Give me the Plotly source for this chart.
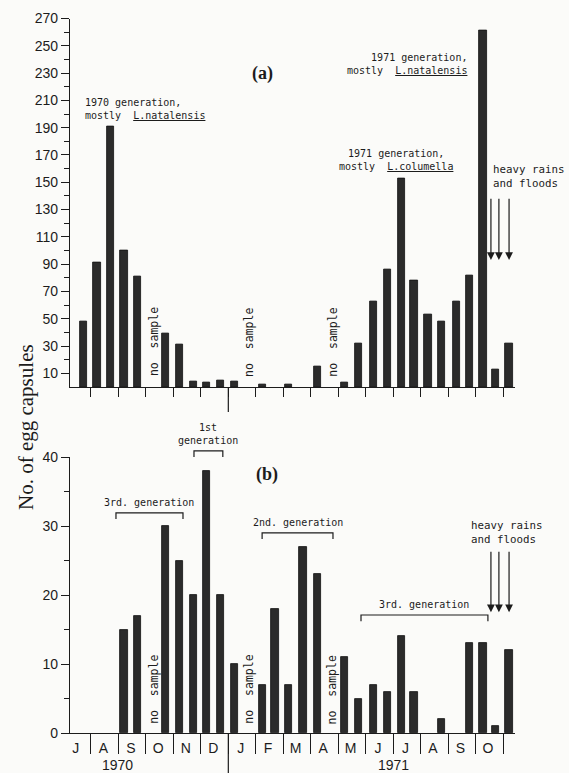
import plotly.graph_objects as go

# ---------------- data ----------------
months = ["J", "A", "S", "O", "N", "D", "J", "F", "M", "A", "M", "J", "J", "A", "S", "O", "N"]
years = ["1970", "1971"]
# sampling dates, in months since the start of July 1970
sample_dates = [0.72, 1.22, 1.72, 2.2, 2.7, 3.7, 4.22, 4.72, 5.22, 5.73, 6.22, 7.23, 7.7, 8.2,
                8.72, 9.25, 10.24, 10.75, 11.28, 11.79, 12.3, 12.76, 13.27, 13.77, 14.3, 14.78,
                15.27, 15.74, 16.22]
capsules_a = [48, 91, 191, 100, 81, 39, 31, 4, 3, 5, 4, 2, None, 1.5, None, 15, 3, 32, 63, 86,
              153, 78, 53, 48, 63, 82, 261, 13, 32]
capsules_b = [None, None, None, 15, 17, 30, 25, 20, 38, 20, 10, 7, 18, 7, 27, 23, 11, 5, 7, 6,
              14, 6, None, 2, None, 13, 13, 1, 12]
no_sample_dates = [3.3, 6.75, 9.8]
flood_dates = [15.56, 15.85, 16.22]
generations_b = ["3rd. generation", "1st<br>generation", "2nd. generation", "3rd. generation"]
generation_spans = [(1.91, 4.35), (4.75, 5.8), (7.23, 9.81), (10.83, 15.45)]
generation_levels = [31.9, 40.9, 29.0, 17.1]

W, H = 569, 773
BAR = "#2b2b2b"
INK = "#1c1c1c"
MONO = "DejaVu Sans Mono, monospace"
SANS = "Liberation Sans, Arial, sans-serif"
SERIF = "Liberation Serif, Times New Roman, serif"

fig = go.Figure()
fig.add_trace(go.Bar(x=sample_dates, y=capsules_a, xaxis="x", yaxis="y", width=0.26,
                     marker=dict(color=BAR, line=dict(color="#111111", width=0.8)),
                     showlegend=False))
fig.add_trace(go.Bar(x=sample_dates, y=capsules_b, xaxis="x2", yaxis="y2", width=0.26,
                     marker=dict(color=BAR, line=dict(color="#111111", width=0.8)),
                     showlegend=False))

xdom = [70 / W, 515 / W]
xrng = [(70 - 63.5) / 27.47, (515 - 63.5) / 27.47]
bounds = list(range(1, len(months)))
ydom_a = [(H - 387) / H, (H - 18.5) / H]
ydom_b = [(H - 733) / H, (H - 457) / H]
yrng_b = [0, 40]


def paper_b(v):
    """convert a value on panel (b)'s y scale to paper coordinates"""
    return ydom_b[0] + (v - yrng_b[0]) / (yrng_b[1] - yrng_b[0]) * (ydom_b[1] - ydom_b[0])


axis_common = dict(showgrid=False, zeroline=False, showline=True, linecolor=INK, linewidth=1.3,
                   automargin=False, tickcolor=INK, tickwidth=1.2)

fig.update_layout(
    width=W, height=H,
    margin=dict(l=0, r=0, t=0, b=0),
    paper_bgcolor="#fbfbf9", plot_bgcolor="#fbfbf9",
    bargap=0,
    xaxis=dict(domain=xdom, range=xrng, anchor="y", tickmode="array", tickvals=bounds,
               showticklabels=False, ticks="outside", ticklen=9, **axis_common),
    yaxis=dict(domain=ydom_a, range=[0, 270], anchor="x",
               tickmode="array", tickvals=list(range(10, 271, 20)), ticks="outside", ticklen=8,
               tickfont=dict(family=SANS, size=14, color=INK),
               minor=dict(tickvals=list(range(20, 270, 20)), ticks="outside", ticklen=5,
                          tickcolor=INK, tickwidth=1.1),
               **axis_common),
    xaxis2=dict(domain=xdom, range=xrng, anchor="y2", tickmode="array",
                tickvals=[i + 0.45 for i in range(len(months))], ticktext=months, ticks="",
                tickfont=dict(family=SANS, size=14, color=INK), ticklabelstandoff=2,
                minor=dict(tickvals=bounds, ticks="outside", ticklen=20, tickcolor=INK,
                           tickwidth=1.2),
                **axis_common),
    yaxis2=dict(domain=ydom_b, range=yrng_b, anchor="x2",
                tickmode="array", tickvals=[0, 10, 20, 30, 40], ticks="outside", ticklen=8,
                tickfont=dict(family=SANS, size=14, color=INK),
                minor=dict(tickvals=[5, 15, 25, 35], ticks="outside", ticklen=5,
                           tickcolor=INK, tickwidth=1.1),
                **axis_common),
)

ann = []
shapes = []

# y-axis title
ann.append(dict(text="No. of egg capsules", xref="paper", yref="paper", x=26 / W, y=(H - 427) / H,
                xanchor="center", yanchor="middle",
                showarrow=False, textangle=-90, font=dict(family=SERIF, size=21, color=INK)))
# panel labels
ann.append(dict(text="<b>(a)</b>", xref="x", yref="y", x=7.23, y=230, showarrow=False,
                font=dict(family=SERIF, size=18, color=INK)))
ann.append(dict(text="<b>(b)</b>", xref="x2", yref="y2", x=7.41, y=37.4, showarrow=False,
                font=dict(family=SERIF, size=18, color=INK)))

# panel (a) notes
ann.append(dict(text="1970 generation,<br>mostly  <u>L.natalensis</u>", xref="x", yref="y",
                x=0.71, y=204, xanchor="left", align="left", showarrow=False,
                font=dict(family=MONO, size=10, color=INK)))
ann.append(dict(text="1971 generation,<br>mostly  <u>L.natalensis</u>", xref="x", yref="y",
                x=14.76, y=237, xanchor="right", align="right", showarrow=False,
                font=dict(family=MONO, size=10, color=INK)))
ann.append(dict(text="1971 generation,<br>mostly  <u>L.columella</u>", xref="x", yref="y",
                x=12.1, y=166, xanchor="center", align="center", showarrow=False,
                font=dict(family=MONO, size=10, color=INK)))
ann.append(dict(text="heavy rains<br>and floods", xref="x", yref="y", x=15.56, y=154,
                xanchor="left", align="left", showarrow=False,
                font=dict(family=MONO, size=10.8, color=INK)))
ann.append(dict(text="heavy rains<br>and floods", xref="x2", yref="y2", x=14.76, y=29.1,
                xanchor="left", align="left", showarrow=False,
                font=dict(family=MONO, size=10.8, color=INK)))

# no sample labels
for d in no_sample_dates:
    ann.append(dict(text="no  sample", xref="x", yref="y", x=d, y=33, showarrow=False,
                    textangle=-90, font=dict(family=MONO, size=11.5, color=INK)))
    ann.append(dict(text="no  sample", xref="x2", yref="y2", x=d - 0.03, y=6.3, showarrow=False,
                    textangle=-90, font=dict(family=MONO, size=11.5, color=INK)))

# flood arrows
for d in flood_dates:
    ann.append(dict(text="", xref="x", yref="y", x=d, y=93, axref="x", ayref="y", ax=d, ay=139,
                    showarrow=True, arrowhead=2, arrowsize=1.3, arrowwidth=1.2, arrowcolor=INK))
    ann.append(dict(text="", xref="x2", yref="y2", x=d, y=17.5, axref="x2", ayref="y2", ax=d,
                    ay=26.5, showarrow=True, arrowhead=2, arrowsize=1.3, arrowwidth=1.2,
                    arrowcolor=INK))

# generation brackets in panel (b)
for label, (a, b), lvl in zip(generations_b, generation_spans, generation_levels):
    top = paper_b(lvl)
    low = paper_b(lvl - 0.9)
    shapes.append(dict(type="path", xref="x2", yref="paper",
                       path=f"M {a},{low} L {a},{top} L {b},{top} L {b},{low}",
                       line=dict(color=INK, width=1.2)))
    ann.append(dict(text=label, xref="x2", yref="paper", x=(a + b) / 2, y=top, yanchor="bottom",
                    xanchor="center", yshift=3, showarrow=False,
                    font=dict(family=MONO, size=10, color=INK)))

# year divider (between December 1970 and January 1971)
div = months.index("D") + 1
shapes.append(dict(type="line", xref="x", yref="paper", x0=div, x1=div, y0=(H - 387) / H,
                   y1=(H - 412) / H, line=dict(color=INK, width=1.2)))
shapes.append(dict(type="line", xref="x2", yref="paper", x0=div, x1=div, y0=(H - 733) / H,
                   y1=0, line=dict(color=INK, width=1.2)))

# year labels
ann.append(dict(text=years[0], xref="x2", yref="paper", x=1.98, y=(H - 765) / H, showarrow=False,
                yanchor="middle", font=dict(family=SANS, size=14, color=INK)))
ann.append(dict(text=years[1], xref="x2", yref="paper", x=12.0, y=(H - 765) / H, showarrow=False,
                yanchor="middle", font=dict(family=SANS, size=14, color=INK)))

fig.update_layout(annotations=ann, shapes=shapes)
fig.write_html("out.html")
